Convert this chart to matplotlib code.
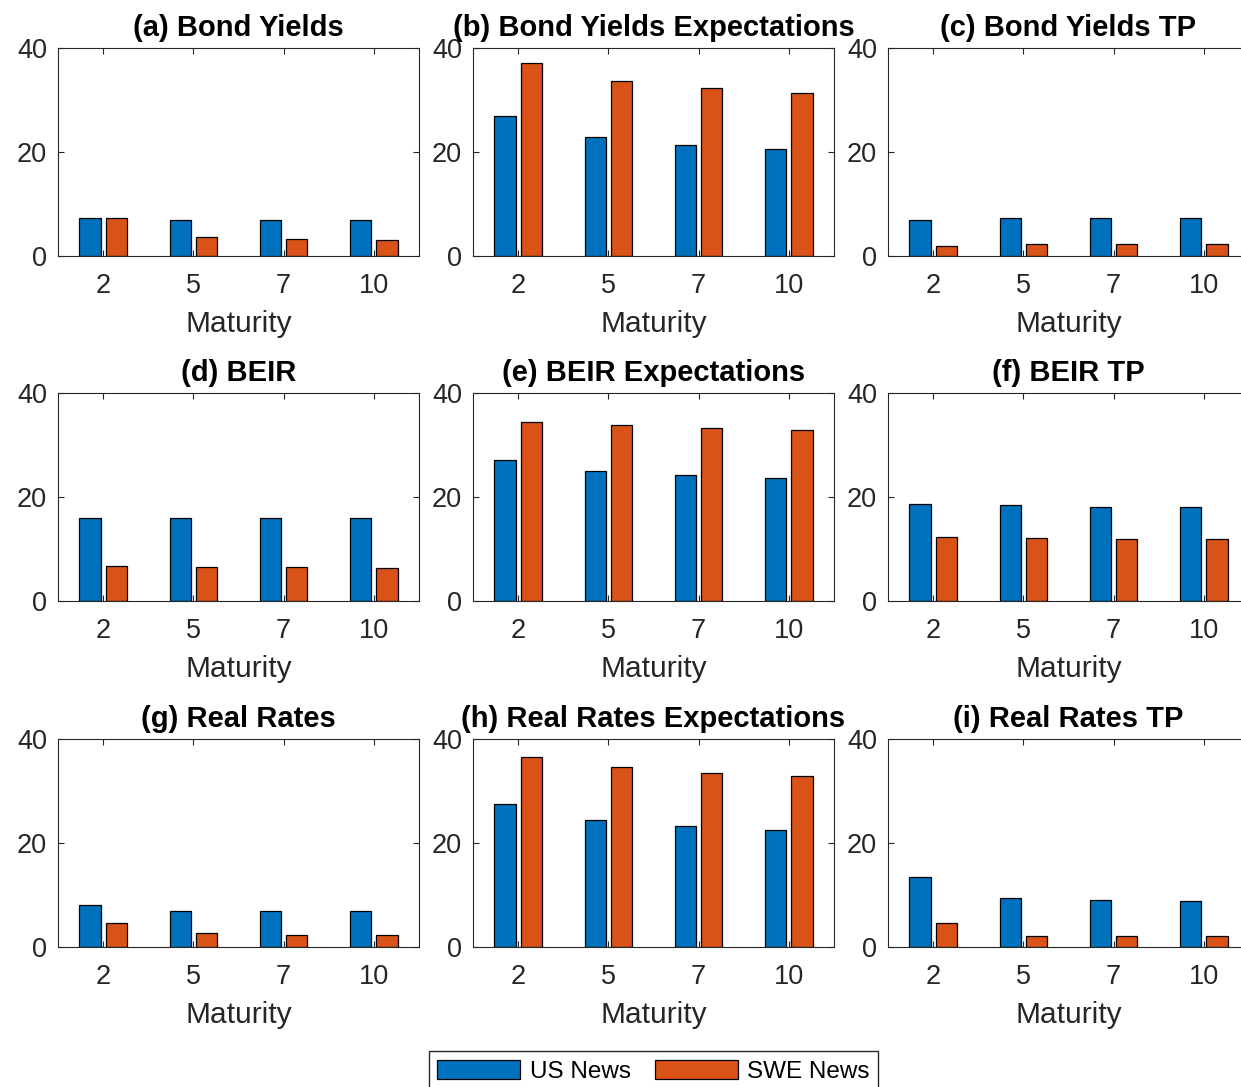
import numpy as np
import matplotlib.pyplot as plt

plt.rcParams['font.family'] = ['Liberation Sans', 'DejaVu Sans']

maturities = ['2', '5', '7', '10']
titles = ['(a) Bond Yields', '(b) Bond Yields Expectations', '(c) Bond Yields TP',
          '(d) BEIR', '(e) BEIR Expectations', '(f) BEIR TP',
          '(g) Real Rates', '(h) Real Rates Expectations', '(i) Real Rates TP']

us_news = [
    [7.3, 6.9, 6.9, 6.9],
    [26.9, 22.9, 21.3, 20.6],
    [6.9, 7.3, 7.3, 7.3],
    [16.0, 16.0, 16.0, 16.0],
    [27.1, 25.0, 24.2, 23.7],
    [18.7, 18.5, 18.1, 18.1],
    [8.1, 6.9, 6.9, 6.9],
    [27.5, 24.4, 23.3, 22.5],
    [13.5, 9.4, 9.1, 8.9],
]
swe_news = [
    [7.3, 3.6, 3.3, 3.0],
    [37.1, 33.7, 32.3, 31.3],
    [1.9, 2.3, 2.3, 2.3],
    [6.7, 6.5, 6.5, 6.3],
    [34.4, 33.8, 33.3, 32.9],
    [12.3, 12.1, 11.9, 11.9],
    [4.6, 2.7, 2.3, 2.3],
    [36.5, 34.6, 33.5, 32.9],
    [4.6, 2.1, 2.1, 2.1],
]

blue = '#0072BD'
orange = '#D95319'
dark = '#262626'

W, H = 1241, 1087
fig = plt.figure(figsize=(W / 100, H / 100), dpi=100)

lefts = [58, 473, 888]
tops = [48, 393, 739]
aw, ah = 361, 208

x = np.arange(1, 5)
bw = 0.235
off = 0.145

for i in range(9):
    r, c = divmod(i, 3)
    ax = fig.add_axes([lefts[c] / W, 1 - (tops[r] + ah) / H, aw / W, ah / H])
    b1 = ax.bar(x - off, us_news[i], bw, color=blue, edgecolor='black', linewidth=0.9, label='US News')
    b2 = ax.bar(x + off, swe_news[i], bw, color=orange, edgecolor='black', linewidth=0.9, label='SWE News')
    ax.set_xlim(0.5, 4.5)
    ax.set_ylim(0, 40)
    ax.set_xticks(x)
    ax.set_xticklabels(maturities)
    ax.set_yticks([0, 20, 40])
    ax.tick_params(direction='in', top=True, right=True, length=4, width=0.8,
                   color=dark, labelcolor=dark, labelsize=19.5)
    ax.tick_params(axis='x', pad=12)
    ax.tick_params(axis='y', pad=8)
    for s in ax.spines.values():
        s.set_color(dark)
        s.set_linewidth(0.8)
    ax.set_xlabel('Maturity', fontsize=21.5, color=dark, labelpad=8)
    ax.set_title(titles[i], fontsize=21, fontweight='bold', pad=8.5)

fig.legend([b1, b2], ['US News', 'SWE News'], loc='upper center',
           bbox_to_anchor=(653.5 / W, 1 - 1051 / H), ncol=2, fontsize=17.5,
           frameon=True, fancybox=False, edgecolor=dark, framealpha=1,
           handlelength=3.4, handleheight=0.85, handletextpad=0.4,
           columnspacing=1.0, borderpad=0.35, borderaxespad=0)

fig.savefig('out.png', dpi=100)
